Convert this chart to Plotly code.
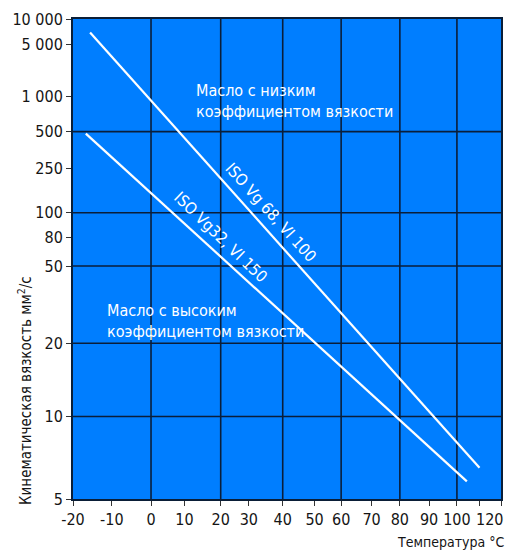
import numpy as np
import plotly.graph_objects as go

# ---- data ----
temp_tick_values = [-20, -10, 0, 10, 20, 30, 40, 50, 60, 70, 80, 90, 100, 110, 120]
temp_label_values = [-20, -10, 0, 10, 20, 30, 40, 50, 60, 70, 80, 90, 100]
temp_tick_labels = ["-20", "-10", "0", "10", "20", "30", "40", "50", "60", "70", "80", "90", "100"]
temp_minor_ticks = [110, 120]
temp_end_label = "120"
visc_tick_values = [5, 10, 20, 50, 80, 100, 250, 500, 1000, 5000, 10000]
visc_tick_labels = ["5", "10", "20", "50", "80", "100", "250", "500", "1 000", "5 000", "10 000"]

temp_grid = [0, 20, 40, 60, 80, 100]
visc_grid = [10, 20, 50, 100, 500]

vg68_temp = [-15.6, 110]
vg68_visc = [6960, 6.5]
vg32_temp = [-16.7, 104.4]
vg32_visc = [482, 5.8]

# ---- chart scale calibration (non-uniform printed chart scale) ----
temp_scale = [0, 0.0907, 0.1823, 0.2605, 0.3451, 0.4109, 0.49, 0.5644, 0.6265,
              0.6977, 0.7637, 0.8319, 0.897, 0.9498, 1.0]
visc_scale = [0, 0.1718, 0.3244, 0.4853, 0.5453, 0.5963, 0.6882, 0.7654, 0.8385, 0.9462, 1.0]


def sx(t):
    return np.interp(t, temp_tick_values, temp_scale)


def sy(v):
    return np.interp(np.log10(v), np.log10(visc_tick_values), visc_scale)


BLUE = "rgb(0,126,255)"
GRID = "rgb(10,30,58)"
FONT = "DejaVu Sans Condensed, Roboto Condensed, Roboto, sans-serif"
TXT = "#151515"

fig = go.Figure()
for t, v in [(vg68_temp, vg68_visc), (vg32_temp, vg32_visc)]:
    fig.add_trace(go.Scatter(x=sx(t), y=sy(v), mode="lines",
                             line=dict(color="white", width=2.2),
                             showlegend=False, hoverinfo="skip"))

shapes = []
for t in temp_grid:
    xv = float(sx(t))
    shapes.append(dict(type="line", xref="x", yref="y", x0=xv, x1=xv, y0=0, y1=1,
                       line=dict(color=GRID, width=1.6), layer="below"))
for v in visc_grid:
    yv = float(sy(v))
    shapes.append(dict(type="line", xref="x", yref="y", x0=0, x1=1, y0=yv, y1=yv,
                       line=dict(color=GRID, width=1.6), layer="below"))

annotations = [
    dict(text="Масло с низким<br>коэффициентом вязкости", xref="paper", yref="paper",
         x=0.283, y=0.8285, xanchor="left", yanchor="middle", align="left",
         showarrow=False, font=dict(family=FONT, size=16, color="white")),
    dict(text="Масло с высоким<br>коэффициентом вязкости", xref="paper", yref="paper",
         x=0.0737, y=0.370, xanchor="left", yanchor="middle", align="left",
         showarrow=False, font=dict(family=FONT, size=16, color="white")),
    dict(text="ISO Vg 68, VI 100", xref="paper", yref="paper",
         x=0.4628, y=0.5977, xanchor="center", yanchor="middle", textangle=48,
         showarrow=False, font=dict(family=FONT, size=16, color="white")),
    dict(text="ISO Vg32, VI 150", xref="paper", yref="paper",
         x=0.3463, y=0.5455, xanchor="center", yanchor="middle", textangle=44,
         showarrow=False, font=dict(family=FONT, size=16, color="white")),
    dict(text=temp_end_label, xref="paper", yref="paper",
         x=1.0086, y=-0.042, xanchor="right", yanchor="middle",
         showarrow=False, font=dict(family=FONT, size=16, color=TXT)),
    dict(text="Температура °C", xref="paper", yref="paper",
         x=1.011, y=-0.0896, xanchor="right", yanchor="middle",
         showarrow=False, font=dict(family=FONT, size=14, color=TXT)),
    dict(text="Кинематическая вязкость мм<sup>2</sup>/с", xref="paper", yref="paper",
         x=-0.1123, y=0.227, xanchor="center", yanchor="middle", textangle=-90,
         showarrow=False, font=dict(family=FONT, size=15, color=TXT)),
]

fig.update_layout(
    width=513, height=553,
    margin=dict(l=73, r=10, t=16, b=54),
    paper_bgcolor="white", plot_bgcolor=BLUE,
    shapes=shapes, annotations=annotations,
    xaxis=dict(range=[0, 1], tickmode="array", tickvals=list(sx(temp_label_values)),
               ticktext=temp_tick_labels, showgrid=False, zeroline=False,
               ticks="outside", ticklen=5, tickwidth=1, tickcolor="#333",
               minor=dict(tickmode="array", tickvals=list(sx(temp_minor_ticks)),
                          ticks="outside", ticklen=5, tickwidth=1, tickcolor="#333",
                          showgrid=False),
               showline=True, linecolor="rgb(10,30,55)", linewidth=2, mirror=True,
               tickfont=dict(family=FONT, size=16, color=TXT)),
    yaxis=dict(range=[0, 1], tickmode="array", tickvals=list(sy(visc_tick_values)),
               ticktext=visc_tick_labels, showgrid=False, zeroline=False,
               ticks="outside", ticklen=5, tickwidth=1, tickcolor="#333",
               showline=True, linecolor="rgb(10,30,55)", linewidth=2, mirror=True,
               tickfont=dict(family=FONT, size=16, color=TXT)),
)

fig.write_html("out.html", config={"displayModeBar": False},
               post_script="document.body.style.margin='0';document.body.style.overflow='hidden';")
